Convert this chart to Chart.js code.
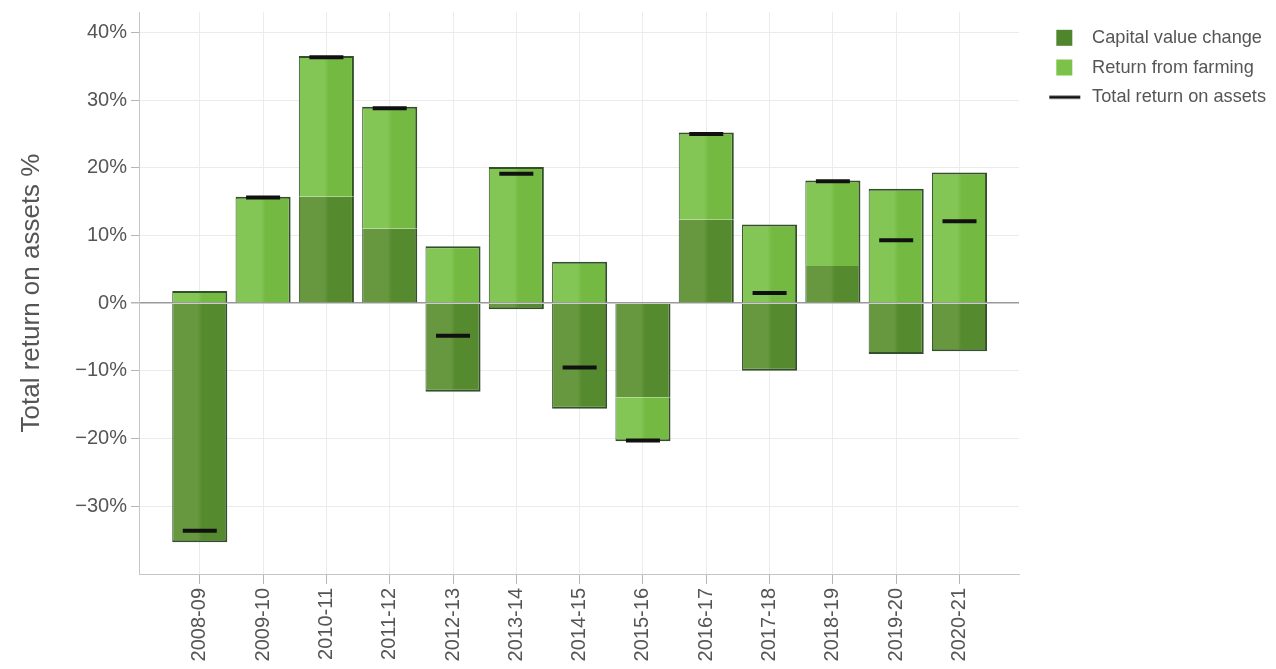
<!DOCTYPE html>
<html>
<head>
<meta charset="utf-8">
<title>Total return on assets</title>
<script src="https://cdn.jsdelivr.net/npm/chart.js@4.4.1/dist/chart.umd.min.js"></script>
<style>
  html, body { margin: 0; padding: 0; background: #fff; }
  #wrap { width: 1276px; height: 669px; }
</style>
</head>
<body>
<div id="wrap"><canvas id="chart" width="1276" height="669"></canvas></div>
<script>
(function () {
  'use strict';

  var years = ['2008-09', '2009-10', '2010-11', '2011-12', '2012-13', '2013-14', '2014-15',
    '2015-16', '2016-17', '2017-18', '2018-19', '2019-20', '2020-21'];
  var capitalChange = [-35.3, 0, 15.7, 11.0, -13.1, -0.9, -15.6, -13.9, 12.3, -10.0, 5.5, -7.5, -7.1];
  var farmingReturn = [1.8, 15.7, 20.8, 18.0, 8.4, 20.1, 6.1, -6.5, 12.9, 11.6, 12.6, 16.9, 19.3];
  var totalReturn = [-33.6, 15.6, 36.3, 28.8, -4.8, 19.1, -9.5, -20.3, 25.0, 1.5, 18.0, 9.3, 12.1];
  var yTicks = [-30, -20, -10, 0, 10, 20, 30, 40];

  var FONT = "'Liberation Sans', Arial, sans-serif";
  var BAR_PCT = 0.87;
  var darkShades = ['#67983f', '#558a2f'];
  var lightShades = ['#84c656', '#74ba42'];

  function points(arr) {
    return arr.map(function (v, i) { return { x: i, y: v }; });
  }

  // left half a little lighter than the right half, like the original bars
  function barFill(shades) {
    return function (ctx) {
      var xs = ctx.chart.scales.x;
      if (!xs || ctx.dataIndex === undefined) return shades[0];
      var cx = xs.getPixelForValue(ctx.dataIndex);
      var half = Math.abs(xs.getPixelForValue(1) - xs.getPixelForValue(0)) * BAR_PCT / 2;
      if (!isFinite(cx) || !isFinite(half) || half <= 0) return shades[0];
      var g = ctx.chart.ctx.createLinearGradient(cx - half, 0, cx + half, 0);
      g.addColorStop(0, shades[0]);
      g.addColorStop(0.46, shades[0]);
      g.addColorStop(0.54, shades[1]);
      g.addColorStop(1, shades[1]);
      return g;
    };
  }

  // only the outer end of each stack gets a border
  function barEdges(ctx) {
    var ds = ctx.chart.data.datasets;
    var i = ctx.dataIndex;
    var v = ds[ctx.datasetIndex].data[i].y;
    var outer = true;
    for (var k = ctx.datasetIndex + 1; k < 2; k++) {
      var w = ds[k].data[i].y;
      if (w !== 0 && (w > 0) === (v > 0)) outer = false;
    }
    return {
      top: v > 0 && outer ? 2 : 0,
      bottom: v < 0 && outer ? 2 : 0,
      left: 1,
      right: 2
    };
  }

  function legendIcon(kind, color) {
    var c = document.createElement('canvas');
    c.width = 53; c.height = 18;
    var g = c.getContext('2d');
    g.fillStyle = color;
    if (kind === 'line') g.fillRect(19, 7.5, 31, 3);
    else g.fillRect(26, 1, 16, 16);
    return c;
  }

  var icons = [
    legendIcon('box', '#4f862d'),
    legendIcon('box', '#7cc24a'),
    legendIcon('line', '#111')
  ];

  new Chart(document.getElementById('chart').getContext('2d'), {
    data: {
      datasets: [
        {
          type: 'bar',
          label: 'Capital value change',
          data: points(capitalChange),
          stack: 'bars',
          backgroundColor: barFill(darkShades),
          borderColor: '#33502a',
          borderWidth: barEdges,
          borderSkipped: false,
          categoryPercentage: 1,
          barPercentage: BAR_PCT
        },
        {
          type: 'bar',
          label: 'Return from farming',
          data: points(farmingReturn),
          stack: 'bars',
          backgroundColor: barFill(lightShades),
          borderColor: '#33502a',
          borderWidth: barEdges,
          borderSkipped: false,
          categoryPercentage: 1,
          barPercentage: BAR_PCT
        },
        {
          type: 'line',
          label: 'Total return on assets',
          data: points(totalReturn),
          stack: 'total',
          order: -1,
          showLine: false,
          pointStyle: 'line',
          pointRadius: 17,
          pointHoverRadius: 17,
          pointBorderWidth: 4,
          pointBorderColor: '#111',
          borderColor: '#111'
        }
      ]
    },
    options: {
      responsive: false,
      animation: false,
      layout: { autoPadding: false, padding: { top: 12, right: 0, left: 0, bottom: 0 } },
      plugins: {
        tooltip: { enabled: false },
        legend: {
          position: 'right',
          align: 'start',
          fullSize: false,
          title: { display: true, text: '', font: { size: 1 }, padding: { top: 2, bottom: 2 } },
          labels: {
            usePointStyle: true,
            pointStyleWidth: 52.5,
            padding: 11.5,
            color: '#555',
            font: { family: FONT, size: 18.2 },
            generateLabels: function (chart) {
              return chart.data.datasets.map(function (d, i) {
                return {
                  text: d.label,
                  pointStyle: icons[i],
                  fillStyle: 'transparent',
                  strokeStyle: 'transparent',
                  lineWidth: 0,
                  fontColor: '#555',
                  hidden: false,
                  datasetIndex: i
                };
              });
            }
          }
        }
      },
      scales: {
        x: {
          type: 'linear',
          stacked: true,
          offset: false,
          min: -0.96,
          max: 12.94,
          afterBuildTicks: function (scale) {
            scale.ticks = years.map(function (_, i) { return { value: i }; });
          },
          afterFit: function (scale) { scale.height = 95; },
          grid: { offset: false, color: '#ececec', tickColor: '#b5b5b5', tickLength: 10 },
          border: { color: '#c6c6c6' },
          ticks: {
            autoSkip: false,
            minRotation: 90,
            maxRotation: 90,
            padding: 4,
            color: '#555',
            font: { family: FONT, size: 20 },
            callback: function (value) { return years[value]; }
          }
        },
        y: {
          stacked: true,
          min: -40,
          max: 43,
          afterBuildTicks: function (scale) {
            scale.ticks = yTicks.map(function (v) { return { value: v }; });
          },
          afterFit: function (scale) {
            scale.width = 139;
            scale.paddingTop = 0;
            scale.paddingBottom = 0;
          },
          grid: {
            color: function (c) { return c.tick && c.tick.value === 0 ? '#9a9a9a' : '#ebebeb'; },
            lineWidth: function (c) { return c.tick && c.tick.value === 0 ? 1.5 : 1; },
            tickColor: '#b5b5b5',
            tickLength: 8
          },
          border: { color: '#c6c6c6' },
          title: {
            display: true,
            text: 'Total return on assets %',
            color: '#555',
            font: { family: FONT, size: 26 },
            padding: { top: 16, bottom: 0 }
          },
          ticks: {
            padding: 4,
            color: '#555',
            font: { family: FONT, size: 20 },
            callback: function (value) {
              return (value < 0 ? '\u2212' + Math.abs(value) : value) + '%';
            }
          }
        }
      }
    }
  });
})();
</script>
</body>
</html>
